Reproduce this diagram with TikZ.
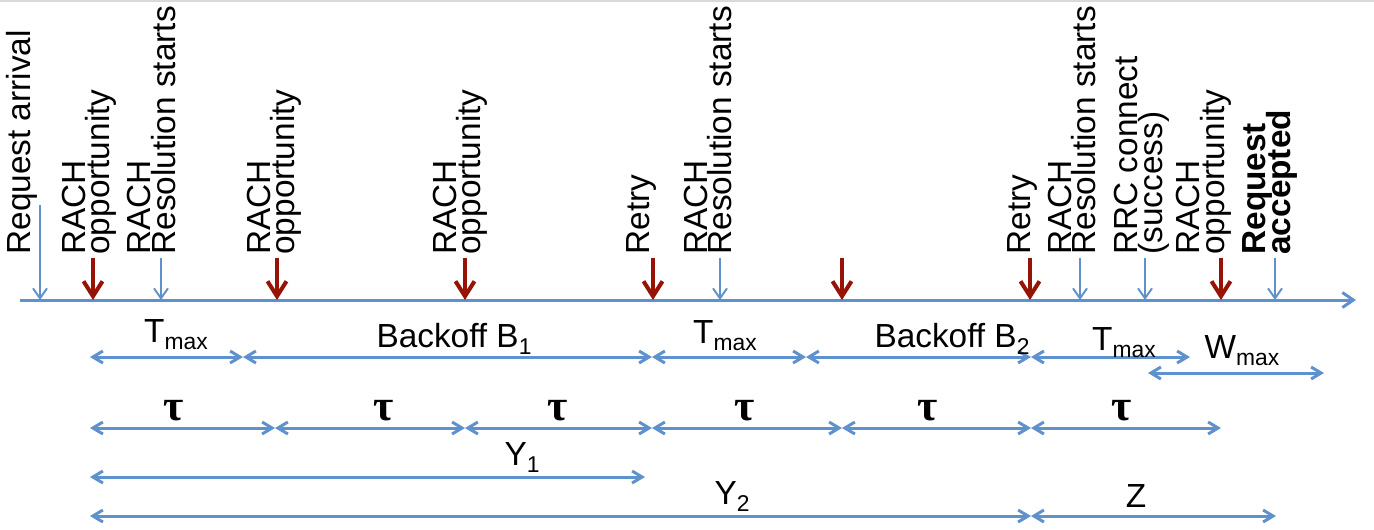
\documentclass[tikz,border=0pt]{standalone}
\usepackage{fontspec}
\setmainfont{Liberation Sans}
\newfontfamily\tauserif{Liberation Serif}
\usetikzlibrary{arrows.meta}
\definecolor{lineblue}{RGB}{95,145,205}
\definecolor{markred}{RGB}{150,20,5}
\newcommand\lowtxt[1]{\raisebox{-0.23em}{\fontsize{13}{13}\selectfont #1}}
\newcommand\tightlines{\fontsize{19}{14}\selectfont\lineskiplimit=-30pt\relax}

\begin{document}
\begin{tikzpicture}[x=0.02cm, y=-0.02cm,
    timeline/.style={draw=lineblue, line width=1.7pt, -{Straight Barb[length=0.22cm, width=0.3cm]}},
    bluemark/.style={draw=lineblue, line width=1.1pt, -{Straight Barb[length=0.2cm, width=0.28cm]}},
    redmark/.style={draw=markred, line width=2.3pt, -{Straight Barb[length=0.3cm, width=0.38cm]}},
    span/.style={draw=lineblue, line width=1.7pt, {Straight Barb[length=0.2cm, width=0.24cm]}-{Straight Barb[length=0.2cm, width=0.24cm]}},
    event/.style={rotate=90, anchor=west, inner sep=0pt, align=left, font=\tightlines},
    lbl/.style={anchor=base, inner sep=0pt, font=\fontsize{19}{19}\selectfont},
    taulbl/.style={anchor=base, inner sep=0pt, font=\fontsize{25}{25}\selectfont\tauserif\bfseries}]
    \useasboundingbox (0,0) rectangle (1374,529);
    \draw[black!15, line width=0.6pt] (0,1) -- (1374,1);

    \coordinate (ax0) at (20,300);
    \coordinate (ax1) at (1356,300);
    \draw[timeline] (ax0) -- (ax1);

    \coordinate (e1) at (40,300);
    \coordinate (e2) at (93,300);
    \coordinate (e3) at (161,300);
    \coordinate (e4) at (277,300);
    \coordinate (e5) at (465,300);
    \coordinate (e6) at (653,300);
    \coordinate (e7) at (720,300);
    \coordinate (e8) at (842,300);
    \coordinate (e9) at (1030,300);
    \coordinate (e10) at (1080,300);
    \coordinate (e11) at (1145,300);
    \coordinate (e12) at (1221,300);
    \coordinate (e13) at (1275,300);

    \draw[bluemark] (e1) ++(0,-95) -- (e1);
    \draw[redmark] (e2) ++(0,-42) -- (e2);
    \draw[bluemark] (e3) ++(0,-42) -- (e3);
    \draw[redmark] (e4) ++(0,-42) -- (e4);
    \draw[redmark] (e5) ++(0,-42) -- (e5);
    \draw[redmark] (e6) ++(0,-42) -- (e6);
    \draw[bluemark] (e7) ++(0,-42) -- (e7);
    \draw[redmark] (e8) ++(0,-42) -- (e8);
    \draw[redmark] (e9) ++(0,-42) -- (e9);
    \draw[bluemark] (e10) ++(0,-42) -- (e10);
    \draw[bluemark] (e11) ++(0,-42) -- (e11);
    \draw[redmark] (e12) ++(0,-42) -- (e12);
    \draw[bluemark] (e13) ++(0,-42) -- (e13);

    \node[event] (arrival) at (21.5,255) {Request arrival};
    \node[event] (opp1) at (89.5,255) {RACH\\opportunity};
    \node[event] (res1) at (151.5,255) {RACH\\Resolution starts};
    \node[event] (opp2) at (274.5,255) {RACH\\opportunity};
    \node[event] (opp3) at (460.5,255) {RACH\\opportunity};
    \node[event] (retry1) at (641,255) {Retry};
    \node[event] (res2) at (708,255) {RACH\\Resolution starts};
    \node[event] (retry2) at (1022,255) {Retry};
    \node[event] (res3) at (1072,255) {RACH\\Resolution starts};
    \node[event] (rrc) at (1142,255) {RRC connect\\(success)};
    \node[event] (opp4) at (1204,255) {RACH\\opportunity};
    \node[event, font=\tightlines\bfseries] (accepted) at (1270,255) {Request\\accepted};

    \coordinate (a1) at (90,357);
    \coordinate (a2) at (243,357);
    \coordinate (a3) at (652,357);
    \coordinate (a4) at (806,357);
    \coordinate (a5) at (1031,357);
    \coordinate (a6) at (1190,357);
    \coordinate (w1) at (1148,373);
    \coordinate (w2) at (1324,373);
    \draw[span] (a1) -- (a2);
    \draw[span] (a2) -- (a3);
    \draw[span] (a3) -- (a4);
    \draw[span] (a4) -- (a5);
    \draw[span] (a5) -- (a6);
    \draw[span] (w1) -- (w2);
    \node[lbl] (tmax1) at (176,342) {T\lowtxt{max}};
    \node[lbl] (backoff1) at (454,347) {Backoff B\lowtxt{1}};
    \node[lbl] (tmax2) at (725,343) {T\lowtxt{max}};
    \node[lbl] (backoff2) at (952,347) {Backoff B\lowtxt{2}};
    \node[lbl] (tmax3) at (1124,350) {T\lowtxt{max}};
    \node[lbl] (wmax) at (1242,358) {W\lowtxt{max}};

    \coordinate (b1) at (90,428);
    \coordinate (b2) at (275,428);
    \coordinate (b3) at (465,428);
    \coordinate (b4) at (652,428);
    \coordinate (b5) at (842,428);
    \coordinate (b6) at (1031,428);
    \coordinate (b7) at (1221,428);
    \draw[span] (b1) -- (b2);
    \draw[span] (b2) -- (b3);
    \draw[span] (b3) -- (b4);
    \draw[span] (b4) -- (b5);
    \draw[span] (b5) -- (b6);
    \draw[span] (b6) -- (b7);
    \node[taulbl] (tau1) at (174,420) {τ};
    \node[taulbl] (tau2) at (384,420) {τ};
    \node[taulbl] (tau3) at (558,420) {τ};
    \node[taulbl] (tau4) at (745,420) {τ};
    \node[taulbl] (tau5) at (928,420) {τ};
    \node[taulbl] (tau6) at (1122,420) {τ};

    \coordinate (c1) at (90,477);
    \coordinate (c2) at (645,477);
    \draw[span] (c1) -- (c2);
    \node[lbl] (y1) at (522,465) {Y\lowtxt{1}};

    \coordinate (d1) at (90,516);
    \coordinate (d2) at (1031,516);
    \coordinate (d3) at (1276,516);
    \draw[span] (d1) -- (d2);
    \draw[span] (d2) -- (d3);
    \node[lbl] (y2) at (732,504) {Y\lowtxt{2}};
    \node[lbl] (z) at (1136,507) {Z};
\end{tikzpicture}
\end{document}
